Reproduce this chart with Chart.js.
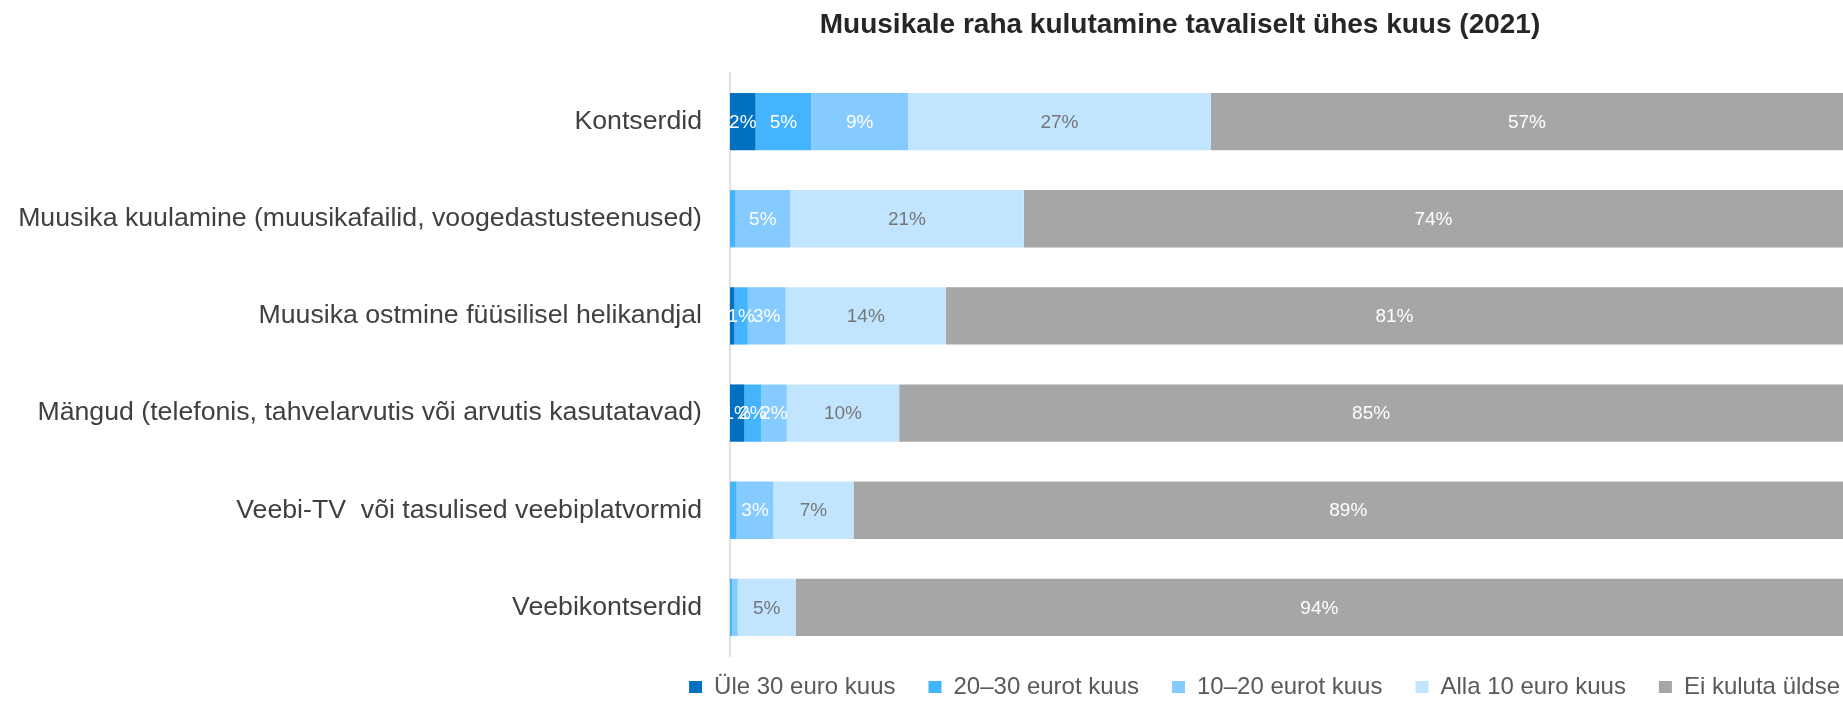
<!DOCTYPE html>
<html>
<head>
<meta charset="utf-8">
<script src="https://cdn.jsdelivr.net/npm/chart.js@4"></script>
<style>
  html, body { margin: 0; padding: 0; background: #fff; }
  #wrap { position: relative; width: 1843px; height: 701px; }
  #title {
    position: absolute; top: 8px; left: 0; width: 2360px; text-align: center;
    font: bold 28px "Liberation Sans", Arial, sans-serif; color: #262626;
  }
</style>
</head>
<body>
<div id="wrap">
  <div id="title">Muusikale raha kulutamine tavaliselt ühes kuus (2021)</div>
  <canvas id="myChart" width="1843" height="701"></canvas>
</div>
<script>
const labels = [
  'Kontserdid',
  'Muusika kuulamine (muusikafailid, voogedastusteenused)',
  'Muusika ostmine füüsilisel helikandjal',
  'Mängud (telefonis, tahvelarvutis või arvutis kasutatavad)',
  'Veebi-TV  või tasulised veebiplatvormid',
  'Veebikontserdid'
];
// shares in %
const ule30 = [2.3, 0, 0.4, 1.3, 0, 0];
const eur20_30 = [5.0, 0.5, 1.2, 1.5, 0.6, 0.2];
const eur10_20 = [8.7, 4.9, 3.4, 2.3, 3.3, 0.5];
const alla10 = [27.2, 21.0, 14.4, 10.1, 7.2, 5.2];
const eiKuluta = [56.8, 73.6, 80.6, 84.8, 88.9, 94.1];

const seriesNames = ['Üle 30 euro kuus', '20–30 eurot kuus', '10–20 eurot kuus', 'Alla 10 euro kuus', 'Ei kuluta üldse'];
const colors = ['#0070C0', '#45B4FF', '#86CBFF', '#C2E5FF', '#A6A6A6'];
const labelColors = ['#ffffff', '#ffffff', '#ffffff', '#767676', '#ffffff'];

const FONT = '"Liberation Sans", Arial, sans-serif';

const data = {
  labels: labels,
  datasets: [ule30, eur20_30, eur10_20, alla10, eiKuluta].map(function (vals, i) {
    return {
      label: seriesNames[i],
      data: vals,
      backgroundColor: colors[i],
      borderWidth: 0,
      barPercentage: 0.59,
      categoryPercentage: 1.0
    };
  })
};

// percent labels in the middle of each segment
const barLabels = {
  id: 'barLabels',
  afterDatasetsDraw(chart) {
    const ctx = chart.ctx;
    ctx.save();
    ctx.font = '19px ' + FONT;
    ctx.textAlign = 'center';
    ctx.textBaseline = 'middle';
    chart.data.datasets.forEach(function (ds, i) {
      const meta = chart.getDatasetMeta(i);
      meta.data.forEach(function (bar, j) {
        const v = ds.data[j];
        if (v < 1) return;
        ctx.fillStyle = labelColors[i];
        ctx.fillText(Math.round(v) + '%', (bar.x + bar.base) / 2, bar.y + 1);
      });
    });
    ctx.restore();
  }
};

// nudge the legend into place
const legendShift = {
  id: 'legendShift',
  afterLayout(chart) {
    const lg = chart.legend;
    lg.left += 30; lg.right += 30;
    lg.top -= 14;
  }
};

const config = {
  type: 'bar',
  data: data,
  plugins: [barLabels, legendShift],
  options: {
    indexAxis: 'y',
    responsive: false,
    animation: false,
    layout: { padding: { top: 73, left: 0, right: 0, bottom: 0 } },
    scales: {
      x: {
        stacked: true,
        min: 0,
        max: 100,
        display: false
      },
      y: {
        stacked: true,
        grid: { display: false },
        border: { display: true, color: '#E0E0E0', width: 2 },
        ticks: {
          color: '#404040',
          padding: 20,
          font: { family: FONT, size: 26.7 }
        },
        afterFit: function (scale) { scale.width = 730; }
      }
    },
    plugins: {
      title: { display: false },
      tooltip: { enabled: false },
      legend: {
        position: 'bottom',
        align: 'end',
        maxHeight: 45,
        labels: {
          boxWidth: 13,
          boxHeight: 12,
          padding: 33,
          color: '#595959',
          font: { family: FONT, size: 24 }
        }
      }
    }
  }
};

const myChart = new Chart(
  document.getElementById('myChart'),
  config
);
</script>
</body>
</html>
